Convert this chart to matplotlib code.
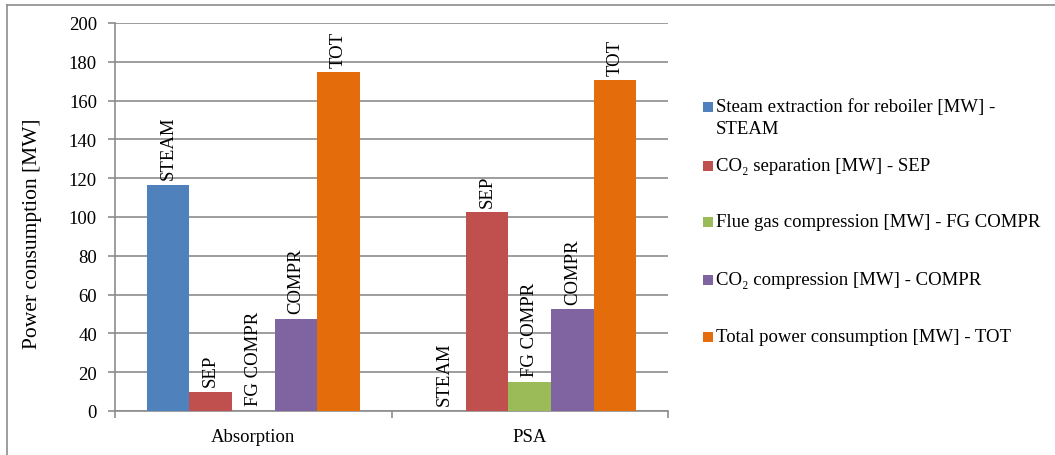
import matplotlib
matplotlib.use("Agg")
import matplotlib.pyplot as plt
import numpy as np
from matplotlib.patches import Rectangle
from matplotlib.lines import Line2D

plt.rcParams['font.family'] = ['Liberation Serif', 'DejaVu Serif']

# data
groups = ["Absorption", "PSA"]
short_names = ["STEAM", "SEP", "FG COMPR", "COMPR", "TOT"]
legend_names = [
    "Steam extraction for reboiler [MW] -\nSTEAM",
    "CO\u2082 separation [MW] - SEP",
    "Flue gas compression [MW] - FG COMPR",
    "CO\u2082 compression [MW] - COMPR",
    "Total power consumption [MW] - TOT",
]
steam = [116.5, 0]
sep = [10, 102.5]
fg_compr = [0, 15]
compr = [47.5, 52.5]
tot = [174.5, 170.5]
colors = ["#4F81BD", "#C0504D", "#9BBB59", "#8064A2", "#E46C0A"]

series = [steam, sep, fg_compr, compr, tot]

W, H = 1055, 456
fig = plt.figure(figsize=(W / 100, H / 100), dpi=100)
ax = fig.add_axes([115 / W, 1 - 412 / H, (668 - 115) / W, (412 - 24) / H])

# frame lines (only top and left are visible in the original)
fig.lines.append(Line2D([7 / W, 1.0], [1 - 6 / H, 1 - 6 / H], transform=fig.transFigure,
                        color="#8c8c8c", linewidth=1.2))
fig.lines.append(Line2D([7 / W, 7 / W], [0, 1 - 6 / H], transform=fig.transFigure,
                        color="#8c8c8c", linewidth=1.2))

x = np.arange(len(groups))
bw = 0.154
for i, (vals, col, name) in enumerate(zip(series, colors, short_names)):
    pos = x - 2 * bw + i * bw
    bars = ax.bar(pos, vals, width=bw, color=col, zorder=3)
    for b, v in zip(bars, vals):
        ax.annotate(name, (b.get_x() + b.get_width() / 2, v), xytext=(0, 4),
                    textcoords="offset points", rotation=90, ha="center", va="bottom",
                    fontsize=13.5)

ax.set_xlim(-0.5, 1.5)
ax.set_ylim(0, 200)
ax.set_yticks(np.arange(0, 201, 20))
ax.set_xticks(x)
ax.set_xticklabels(groups, fontsize=13.5)
ax.set_xticks([-0.5, 0.5, 1.5], minor=True)
ax.tick_params(axis="x", which="major", length=0, pad=12)
ax.tick_params(axis="x", which="minor", length=5, color="#8c8c8c", width=1.2)
ax.tick_params(axis="y", length=5, color="#8c8c8c", width=1.2, labelsize=13.5, pad=8)
ax.grid(axis="y", color="#8c8c8c", linewidth=1.2, zorder=0)
ax.set_axisbelow(True)
for s in ["top", "right"]:
    ax.spines[s].set_visible(False)
for s in ["left", "bottom"]:
    ax.spines[s].set_color("#8c8c8c")
    ax.spines[s].set_linewidth(1.2)
ax.set_ylabel("Power consumption [MW]", fontsize=15.5)
ax.yaxis.set_label_coords((42 - 115) / 553, (412 - 234) / 388)

# legend drawn as squares + text, spaced like the original
leg_y = [108, 167, 223, 281, 338]
for col, lab, yy in zip(colors, legend_names, leg_y):
    fig.patches.append(Rectangle((703 / W, 1 - (yy + 5) / H), 10 / W, 10 / H,
                                 transform=fig.transFigure, facecolor=col, edgecolor="none"))
    if "\n" in lab:
        fig.text(716 / W, 1 - (yy - 9) / H, lab, fontsize=13.5, va="top", ha="left",
                 linespacing=1.35)
    else:
        fig.text(716 / W, 1 - yy / H, lab, fontsize=13.5, va="center", ha="left")

fig.savefig("out.png", dpi=100)
